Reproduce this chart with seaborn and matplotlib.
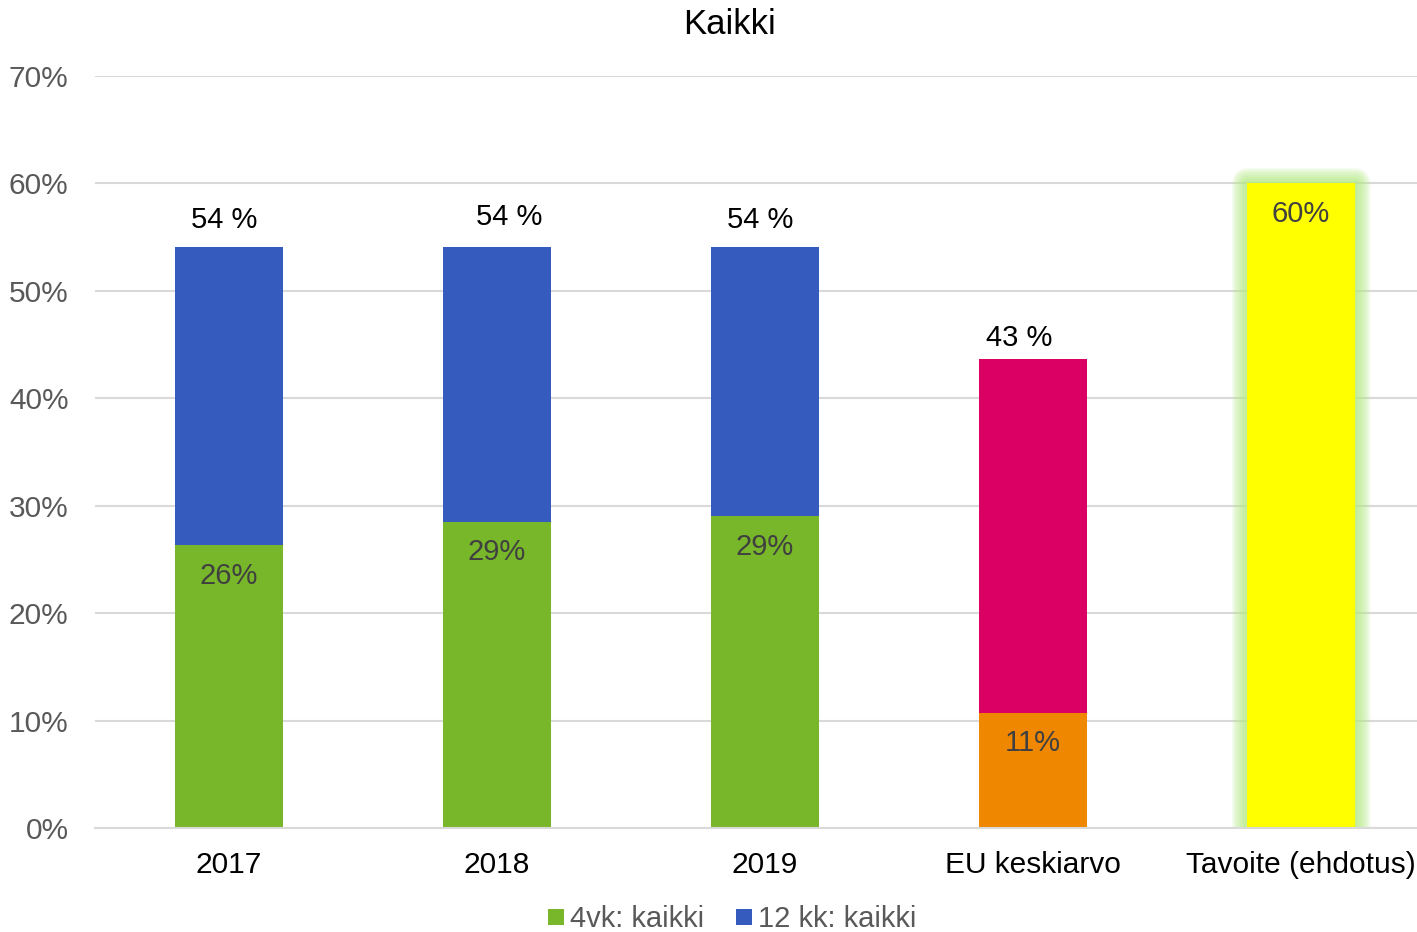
import matplotlib
matplotlib.use("Agg")
import matplotlib.pyplot as plt
import matplotlib.patheffects as pe
from matplotlib.lines import Line2D
import seaborn as sns
import pandas as pd

categories = ["2017", "2018", "2019", "EU keskiarvo", "Tavoite (ehdotus)"]
totals = [54.1, 54.1, 54.1, 43.7, 60.0]
lower = [26.3, 28.5, 29.0, 10.7, 0.0]
top_labels = ["54 %", "54 %", "54 %", "43 %", ""]
inner_labels = ["26%", "29%", "29%", "11%", "60%"]
legend_labels = ["4vk: kaikki", "12 kk: kaikki"]
yticks = [0, 10, 20, 30, 40, 50, 60, 70]

# label placement tweaks (styling only)
label_dx = [-0.017, 0.047, -0.019, -0.05, 0.0]
label_dy = [2.5, 2.8, 2.5, 1.95, 0.0]

top_colors = ["#365BBF", "#365BBF", "#365BBF", "#DB0064", "#FFFF00"]
low_colors = ["#78B72A", "#78B72A", "#78B72A", "#F08700", "#FFFF00"]

sns.set_theme(style="white")
plt.rcParams["font.family"] = ["Liberation Sans", "DejaVu Sans"]

fig = plt.figure(figsize=(14.17, 9.32), dpi=100)
ax = fig.add_axes([95 / 1417, 1 - 828 / 932, 1 - 95 / 1417, (828 - 76) / 932])

df_top = pd.DataFrame({"cat": categories, "val": totals})
df_low = pd.DataFrame({"cat": categories, "val": lower})

sns.barplot(data=df_top, x="cat", y="val", hue="cat", palette=top_colors,
            order=categories, hue_order=categories, width=0.4, legend=False,
            ax=ax, saturation=1, zorder=3)
sns.barplot(data=df_low, x="cat", y="val", hue="cat", palette=low_colors,
            order=categories, hue_order=categories, width=0.4, legend=False,
            ax=ax, saturation=1, zorder=4)

# soft glow on target bar
patches = ax.patches
target = patches[4]
effects = []
for w in range(22, 0, -2):
    effects.append(pe.Stroke(linewidth=w, foreground="#b6ec84", alpha=0.13,
                             joinstyle="round"))
effects.append(pe.Normal())
target.set_path_effects(effects)
for p in patches:
    p.set_linewidth(0)

ax.set_ylim(0, 70)
ax.set_xlim(-0.5, 4.433)
ax.set_yticks(yticks)
ax.set_yticklabels([f"{v}%" for v in yticks], color="#595959", fontsize=21.5)
ax.set_xticklabels(categories, color="black", fontsize=21.5)
ax.tick_params(axis="y", length=0, pad=19)
ax.tick_params(axis="x", length=0, pad=16.5)
ax.grid(axis="y", color="#d9d9d9", linewidth=1.5, zorder=0)
ax.set_axisbelow(True)
for s in ["top", "right", "left"]:
    ax.spines[s].set_visible(False)
ax.spines["bottom"].set_color("#d9d9d9")
ax.spines["bottom"].set_linewidth(1.5)
ax.spines["bottom"].set_zorder(5)
ax.set_xlabel("")
ax.set_ylabel("")

for i, (t, lo) in enumerate(zip(totals, lower)):
    if top_labels[i]:
        ax.text(i + label_dx[i], t + label_dy[i], top_labels[i], ha="center",
                va="center", fontsize=21, color="black", zorder=6)
    ref = lo if lo > 0 else t
    ax.text(i, ref - 2.8, inner_labels[i], ha="center", va="center",
            fontsize=21, color="#404040", zorder=6)

fig.text(0.515, 1 - 25 / 932, "Kaikki", ha="center", va="center",
         fontsize=25, color="black")

handles = [Line2D([], [], marker="s", linestyle="", markersize=12,
                  markerfacecolor=c, markeredgewidth=0)
           for c in ["#78B72A", "#365BBF"]]
leg = fig.legend(handles, legend_labels, loc="center",
                 bbox_to_anchor=(730.5 / 1417, 1 - 919 / 932), ncol=2,
                 frameon=False, fontsize=21, handletextpad=0.1,
                 columnspacing=0.95, handlelength=0.8)
for t in leg.get_texts():
    t.set_color("#595959")

fig.savefig("out.png", dpi=100)
